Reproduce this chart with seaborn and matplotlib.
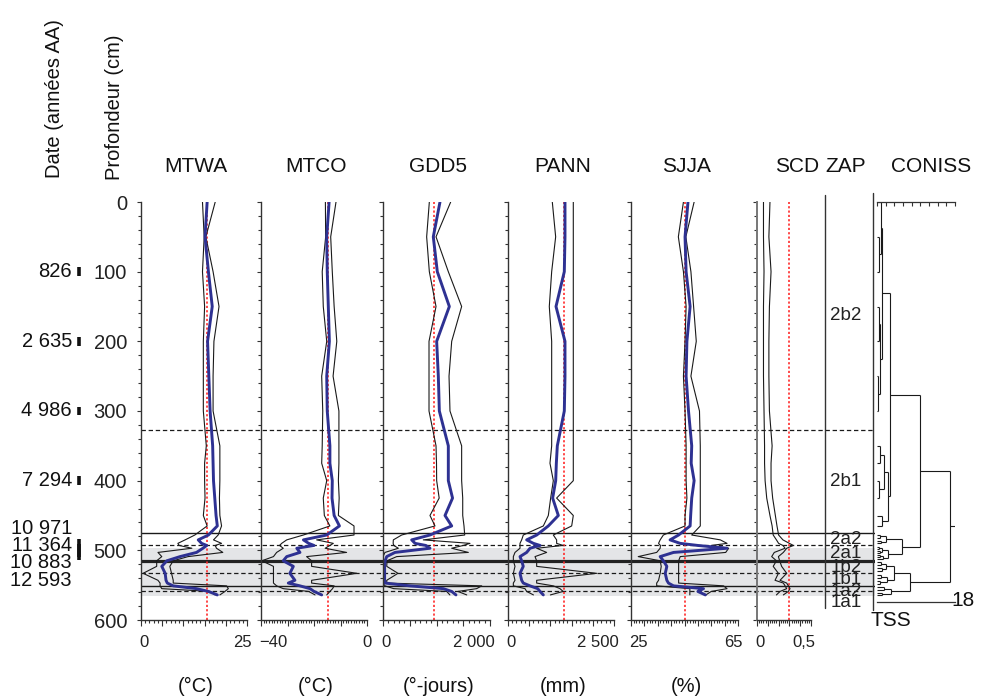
import numpy as np
import pandas as pd
import matplotlib
matplotlib.use("Agg")
import matplotlib.pyplot as plt
import seaborn as sns
from matplotlib.lines import Line2D
from matplotlib.ticker import MultipleLocator, FixedLocator, NullFormatter

# ---------------- data ----------------
depths = [0, 50, 100, 150, 200, 250, 300, 350, 375, 400, 425, 450, 465, 478, 485, 490,
          493, 497, 503, 509, 515, 523, 533, 543, 547, 551, 555, 559, 564]

mtwa     = [15.6, 15.1, 15.9, 16.8, 15.7, 16.0, 16.3, 16.9, 17.0, 17.1, 17.4, 17.7, 18.0, 15.9, 13.5, 14.3,
            15.5, 14.6, 13.1, 9.2, 6.1, 4.9, 5.7, 5.9, 6.2, 7.6, 13.1, 15.9, 18.0]
mtwa_min = [14.5, 14.9, 14.5, 15.0, 14.7, 14.7, 14.7, 15.4, 15.0, 15.0, 15.1, 14.7, 15.6, 12.7, 10.4, 8.7,
            9.0, 12.0, 4.0, 4.9, 3.7, 3.7, 0.5, 4.0, 4.5, 4.5, 4.9, 16.3, 17.5]
mtwa_max = [17.5, 15.3, 17.0, 18.4, 17.2, 17.0, 17.0, 18.6, 18.6, 18.6, 18.5, 18.6, 19.0, 18.2, 17.1, 19.0,
            17.5, 17.8, 19.3, 11.1, 7.6, 6.8, 7.2, 7.6, 7.6, 20.2, 20.6, 19.8, 18.6]

mtco     = [-14.3, -15.2, -15.0, -14.6, -14.2, -15.2, -15.0, -14.0, -14.0, -13.1, -13.2, -12.4, -10.4, -15.2,
            -24.0, -22.0, -20.0, -26.5, -25.3, -30.3, -31.6, -27.8, -29.1, -27.2, -29.7, -25.3, -21.5, -20.0, -17.1]
mtco_min = [-15.7, -15.6, -16.9, -16.5, -15.2, -17.1, -16.7, -16.9, -17.1, -15.2, -16.5, -16.1, -14.0, -24.0,
            -30.3, -32.2, -33.0, -31.6, -34.1, -35.3, -39.7, -35.3, -35.3, -35.3, -35.3, -34.1, -31.6, -22.0, -19.6]
mtco_max = [-11.7, -13.7, -13.1, -12.4, -11.4, -12.8, -10.6, -10.6, -10.6, -10.8, -10.5, -10.8, -4.9, -4.9,
            -19.0, -12.7, -14.0, -15.8, -7.7, -22.8, -20.9, -20.9, -3.8, -20.9, -20.9, -12.4, -13.0, -14.0, -15.2]

gdd5     = [1065, 940, 1015, 1240, 1003, 1034, 1053, 1221, 1221, 1221, 1300, 1159, 1284, 878, 536, 600,
            800, 878, 224, 69, 40, 30, 30, 30, 40, 505, 1128, 1284, 1364]
gdd5_min = [866, 816, 866, 991, 860, 860, 860, 991, 1000, 1003, 1050, 878, 972, 349, 193, 190,
            200, 287, 37, 0, 0, 0, 0, 0, 0, 37, 200, 1190, 1250]
gdd5_max = [1265, 991, 1221, 1470, 1284, 1234, 1252, 1470, 1470, 1470, 1490, 1490, 1514, 1527, 753, 1626,
            1500, 1284, 1595, 256, 75, 70, 280, 70, 70, 1845, 1750, 1400, 1565]

pann     = [1344, 1344, 1328, 1132, 1344, 1344, 1328, 1163, 1140, 1125, 1053, 1187, 951, 677, 440, 600,
            755, 519, 440, 283, 322, 360, 283, 322, 360, 519, 700, 755, 833]
pann_min = [1045, 1124, 1030, 974, 1030, 1030, 1030, 1030, 990, 1069, 1006, 951, 833, 361, 322, 283,
            283, 283, 165, 126, 126, 165, 126, 165, 126, 126, 400, 440, 600]
pann_max = [1540, 1540, 1540, 1540, 1540, 1540, 1540, 1540, 1540, 1540, 1147, 1540, 1502, 1069, 1147, 1147,
            1300, 676, 912, 637, 676, 676, 2091, 676, 676, 1069, 1226, 1300, 1000]

sjja     = [46.3, 45.2, 45.6, 47.1, 45.9, 45.6, 46.5, 47.7, 47.5, 48.6, 47.7, 47.3, 47.1, 42.8, 39.6, 43.4,
            50.0, 60.9, 40.9, 35.9, 37.1, 38.4, 37.8, 38.4, 39.0, 40.9, 52.1, 50.0, 52.8]
sjja_min = [44.6, 42.7, 44.6, 45.6, 45.2, 44.6, 45.2, 45.6, 45.6, 45.6, 45.9, 45.2, 45.2, 37.1, 35.9, 35.3,
            36.0, 35.9, 34.6, 27.7, 35.9, 36.3, 35.9, 35.3, 34.6, 34.6, 47.0, 47.0, 47.0]
sjja_max = [48.6, 45.5, 47.4, 48.4, 49.4, 47.4, 50.6, 50.9, 50.9, 50.9, 50.9, 50.9, 50.9, 47.7, 58.4, 60.9,
            55.0, 61.5, 60.4, 43.4, 42.8, 42.8, 42.8, 42.8, 42.8, 59.6, 60.9, 55.0, 53.0]

scd_a = [0.06, 0.06, 0.065, 0.06, 0.06, 0.06, 0.065, 0.07, 0.07, 0.075, 0.09, 0.12, 0.14, 0.15, 0.18, 0.20,
         0.24, 0.26, 0.16, 0.136, 0.18, 0.15, 0.198, 0.167, 0.244, 0.26, 0.275, 0.213, 0.18]
scd_b = [0.12, 0.11, 0.13, 0.115, 0.11, 0.11, 0.115, 0.14, 0.13, 0.13, 0.145, 0.17, 0.185, 0.20, 0.24, 0.30,
         0.336, 0.275, 0.244, 0.198, 0.21, 0.228, 0.275, 0.213, 0.275, 0.29, 0.306, 0.29, 0.244]

modern = {"MTWA": 15.5, "MTCO": -14.8, "GDD5": 960, "PANN": 1320, "SJJA": 45.0, "SCD": 0.3}

date_labels = ["826", "2 635", "4 986", "7 294", "10 971", "11 364", "10 883", "12 593"]
date_depths = [100, 200, 300, 400, 490, 497, 503, 508]

zone_names = ["2b2", "2b1", "2a2", "2a1", "1b2", "1b1", "1a2", "1a1"]
zone_bounds = [0, 327, 475, 493, 515, 533, 551, 559, 566]
bound_styles = ["dashed", "solid", "dashed", "thick", "dashed", "solid", "dashed"]
gray_band = (496, 566)

# CONISS tree: (TSS, left, right); leaves are sample depths
coniss_tree = (16.8,
    (9.9,
        (3.0,
            (1.1, (0.9, 0, (0.5, 50, 100)), (0.8, (0.4, 150, 200), (0.3, 250, 300))),
            (2.5, (1.5, (0.6, 350, 375), (0.5, 400, 425)), (1.2, 450, 465))),
        (5.7,
            (2.0, (0.8, 478, 482), (1.0, 486, 490)),
            (2.6, (1.2, (0.5, 495, 498), (0.7, 501, 504)), (1.4, (0.6, 507, 510), 513)))),
    (7.5,
        (4.0,
            (2.0, (0.9, 517, 521), (1.1, 525, 529)),
            (2.2, (1.0, 536, 540), (0.8, 544, 548))),
        (3.3, (1.5, 553, 557), (1.2, 561, 564))))

df = pd.DataFrame({"depth": depths,
                   "MTWA": mtwa, "MTWA_min": mtwa_min, "MTWA_max": mtwa_max,
                   "MTCO": mtco, "MTCO_min": mtco_min, "MTCO_max": mtco_max,
                   "GDD5": gdd5, "GDD5_min": gdd5_min, "GDD5_max": gdd5_max,
                   "PANN": pann, "PANN_min": pann_min, "PANN_max": pann_max,
                   "SJJA": sjja, "SJJA_min": sjja_min, "SJJA_max": sjja_max,
                   "SCD_a": scd_a, "SCD_b": scd_b})

# ---------------- style ----------------
sns.set_theme(style="white")
plt.rcParams['font.family'] = ['Liberation Sans', 'DejaVu Sans']
plt.rcParams['axes.unicode_minus'] = True

W, H = 984, 700
fig = plt.figure(figsize=(W / 100, H / 100), dpi=100)
fig.patch.set_facecolor("white")

Y_TOP, Y_BOT = 202, 620
BLUE = "#2e3192"
RED = "#ff2a2a"
DARK = "#1a1a1a"
TXT = "#111111"


def add_ax(x0, x1, y0=Y_TOP, y1=Y_BOT):
    return fig.add_axes([x0 / W, 1 - y1 / H, (x1 - x0) / W, (y1 - y0) / H])


def fline(xs, ys, **kw):
    fig.add_artist(Line2D([x / W for x in xs], [1 - y / H for y in ys], **kw))


# background: zone band and boundaries
bg = add_ax(141, 875)
bg.set_xlim(0, 1)
bg.set_ylim(600, 0)
bg.axis("off")
bg.axhspan(*gray_band, color="#e4e5e7", lw=0, zorder=0)
for b, st in zip(zone_bounds[1:-1], bound_styles):
    if st == "dashed":
        bg.axhline(b, color=DARK, lw=0.9, ls=(0, (3.5, 2.2)), zorder=1)
    elif st == "thick":
        bg.axhline(b, color="#222222", lw=2.3, zorder=1)
    else:
        bg.axhline(b, color=DARK, lw=1.0, zorder=1)

panels = [
    # name, x0, x1, xlim, major, minor, end labels, unit
    ("MTWA", 141, 247, (0, 25), 5, 1, ("0", "25"), "(°C)"),
    ("MTCO", 261, 367, (-40, 0), 10, 1, ("\u221240", "0"), "(°C)"),
    ("GDD5", 383, 490, (0, 2000), 500, 100, ("0", "2 000"), "(°-jours)"),
    ("PANN", 508, 614, (0, 2500), 500, 100, ("0", "2 500"), "(mm)"),
    ("SJJA", 631, 738, (25, 65), 5, 1, ("25", "65"), "(%)"),
    ("SCD", 757, 811, (0, 0.5), 0.1, 0.02, ("0", "0,5"), None),
]

for i, (name, x0, x1, xlim, major, minor, endlab, unit) in enumerate(panels):
    ax = add_ax(x0, x1)
    ax.set_facecolor("none")

    ax.axvline(modern[name], color=RED, lw=1.2, ls=(0, (1.3, 1.3)), zorder=2)
    if name == "SCD":
        sns.lineplot(data=df, x="SCD_a", y="depth", sort=False, estimator=None, color=DARK, lw=0.8, ax=ax)
        sns.lineplot(data=df, x="SCD_b", y="depth", sort=False, estimator=None, color=DARK, lw=0.8, ax=ax)
    else:
        sns.lineplot(data=df, x=name + "_min", y="depth", sort=False, estimator=None, color=DARK, lw=0.8, ax=ax)
        sns.lineplot(data=df, x=name + "_max", y="depth", sort=False, estimator=None, color=DARK, lw=0.8, ax=ax)
        sns.lineplot(data=df, x=name, y="depth", sort=False, estimator=None, color=BLUE, lw=2.1, ax=ax)

    lo, hi = xlim
    ax.set_xlim(lo, hi)
    ax.set_ylim(600, 0)
    ax.set_xlabel("")
    ax.set_ylabel("")
    for s in ["top", "right"]:
        ax.spines[s].set_visible(False)
    ax.spines["left"].set_color("#333333" if name != "SCD" else "#777777")
    ax.spines["left"].set_linewidth(1.0 if name != "SCD" else 1.4)
    ax.spines["bottom"].set_color("#333333")
    ax.spines["bottom"].set_linewidth(1.0)

    ax.yaxis.set_major_locator(MultipleLocator(100))
    ax.yaxis.set_minor_locator(MultipleLocator(20))
    ax.xaxis.set_major_locator(FixedLocator(np.arange(lo, hi + major * 0.01, major)))
    ax.xaxis.set_minor_locator(FixedLocator(np.arange(lo, hi + minor * 0.01, minor)))
    ax.xaxis.set_major_formatter(NullFormatter())
    ax.tick_params(axis="both", which="both", direction="out", color="#333333", width=0.8,
                   left=True, bottom=True)
    ax.tick_params(axis="y", which="major", length=3)
    ax.tick_params(axis="y", which="minor", length=2)
    ax.tick_params(axis="x", which="major", length=4.5)
    ax.tick_params(axis="x", which="minor", length=2.5)
    if i == 0:
        ax.tick_params(axis="y", which="major", labelsize=14.5, pad=7, labelcolor="#222222")
    else:
        ax.tick_params(axis="y", labelleft=False)

    # end labels of the x scale
    ax.annotate(endlab[0], xy=(lo, 0), xycoords=("data", "axes fraction"), xytext=(-1.5, -16),
                textcoords="offset points", ha="left", va="center", fontsize=12, color="#222222")
    ax.annotate(endlab[1], xy=(hi, 0), xycoords=("data", "axes fraction"), xytext=(3.5, -16),
                textcoords="offset points", ha="right", va="center", fontsize=12, color="#222222")

    fig.text((x0 + x1) / 2 / W + (0.013 if name == "SCD" else 0.002), 1 - 167 / H, name,
             ha="center", va="center", fontsize=15, color=TXT)
    if unit:
        fig.text((x0 + x1) / 2 / W + 0.002, 1 - 686 / H, unit, ha="center", va="center",
                 fontsize=14.5, color=TXT)

# ZAP column
fline([825, 825], [195, 608], color="#333333", lw=1.0)
fig.text(846 / W, 1 - 167 / H, "ZAP", ha="center", va="center", fontsize=15, color=TXT)
zap = add_ax(825, 873)
zap.set_xlim(0, 1)
zap.set_ylim(600, 0)
zap.axis("off")
prev = -100
for k, nm in enumerate(zone_names):
    mid = (zone_bounds[k] + zone_bounds[k + 1]) / 2
    pos = max(mid, prev + 16.5)
    prev = pos
    zap.text(0.44, pos, nm, ha="center", va="center", fontsize=13.5, color="#222222")

# CONISS dendrogram
fline([873, 873], [193, 610], color="#333333", lw=1.0)
fig.text(931 / W, 1 - 167 / H, "CONISS", ha="center", va="center", fontsize=15, color=TXT)
cax = add_ax(877, 955)
cax.set_facecolor("none")
cax.set_xlim(0, 18)
cax.set_ylim(600, 0)
for s in ["left", "right", "bottom"]:
    cax.spines[s].set_visible(False)
cax.spines["top"].set_color("#333333")
cax.spines["top"].set_linewidth(0.9)
cax.xaxis.set_ticks_position("top")
cax.set_xticks(np.arange(0, 19, 2))
cax.tick_params(axis="x", direction="in", length=3, width=0.8, color="#333333", labeltop=False,
                labelbottom=False, top=True, bottom=False)
cax.set_yticks([])


def draw_tree(node):
    if not isinstance(node, tuple):
        return 0.0, float(node)
    h, a, b = node
    ha_, ya = draw_tree(a)
    hb, yb = draw_tree(b)
    kw = dict(color=DARK, lw=0.8, solid_capstyle="butt")
    cax.plot([ha_, h], [ya, ya], **kw)
    cax.plot([hb, h], [yb, yb], **kw)
    cax.plot([h, h], [ya, yb], **kw)
    return h, (ya + yb) / 2


root_h, root_y = draw_tree(coniss_tree)
cax.plot([root_h, 18], [root_y, root_y], color=DARK, lw=0.8)

# bottom TSS scale
tax = fig.add_axes([877 / W, 1 - 602 / H, 78 / W, 0.5 / H])
tax.set_facecolor("none")
tax.set_xlim(0, 18)
for s in ["left", "right", "top"]:
    tax.spines[s].set_visible(False)
tax.spines["bottom"].set_color("#333333")
tax.spines["bottom"].set_linewidth(0.9)
tax.set_xticks(np.arange(0, 19, 2))
tax.set_yticks([])
tax.tick_params(axis="x", direction="in", length=4, width=0.8, color="#333333", labelbottom=False)
fig.text(963 / W, 1 - 601 / H, "18", ha="center", va="center", fontsize=15, color=TXT)
fig.text(891 / W, 1 - 621 / H, "TSS", ha="center", va="center", fontsize=15, color=TXT)

# Date axis
dax = add_ax(60, 100)
dax.set_xlim(0, 1)
dax.set_ylim(600, 0)
dax.axis("off")
dax.vlines([0.475] * len(date_depths), [d - 6 for d in date_depths], [d + 6 for d in date_depths],
           color="#111111", lw=2.6)
# spread the crowded labels below 450 cm
crowd_start = min(d for d in date_depths if d > 450) - 22
n_crowd = 0
for lab, d in zip(date_labels, date_depths):
    if d > 450:
        pos = crowd_start + 25 * n_crowd
        n_crowd += 1
    else:
        pos = d
    dax.text(0.3, pos, lab, ha="right", va="center", fontsize=14.5, color=TXT, clip_on=False)

fig.text(55 / W, 1 - 178 / H, "Date (années AA)", rotation=90, ha="center", va="bottom",
         fontsize=14.5, color=TXT)
fig.text(115 / W, 1 - 180 / H, "Profondeur (cm)", rotation=90, ha="center", va="bottom",
         fontsize=14.5, color=TXT)

fig.savefig("out.png", dpi=100, facecolor="white")
